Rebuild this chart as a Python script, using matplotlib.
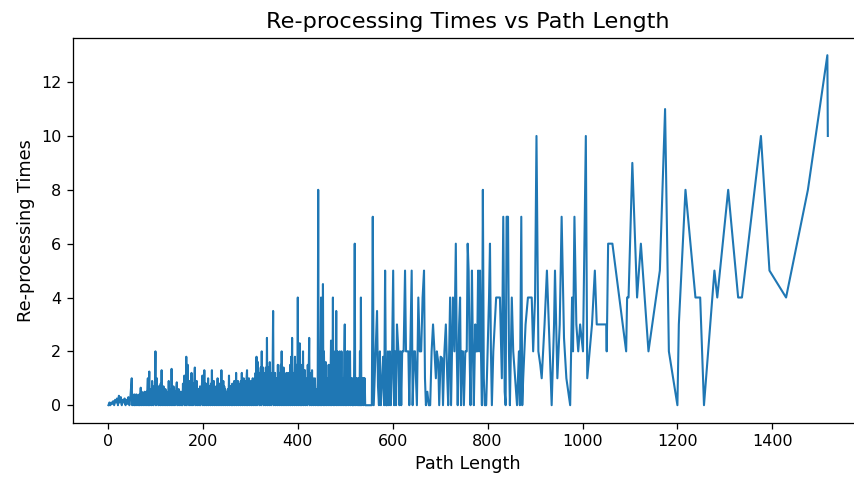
import matplotlib
matplotlib.use("Agg")
import matplotlib.pyplot as plt

# Path length of each processed route (sorted) and how many times it was re-processed
path_length = [
    1, 3, 5, 7, 9, 11, 13, 15, 17, 19, 21, 23, 25, 27, 29, 31, 33, 35, 37, 39, 41, 43, 45, 47,
    50, 51, 52, 53, 54, 55, 56, 57, 58, 59,
    60, 61, 62, 63, 64, 65, 66, 67, 68, 69,
    70, 71, 72, 73, 74, 75, 76, 77, 78, 79,
    80, 81, 82, 83, 84, 85, 86, 87, 88, 89,
    90, 91, 92, 93, 94, 95, 96, 97, 98, 99,
    100, 101, 102, 103, 104, 105, 106, 107, 108, 109,
    110, 111, 112, 113, 114, 115, 116, 117, 118, 119,
    120, 121, 122, 123, 124, 125, 126, 127, 128, 129,
    130, 131, 132, 133, 134, 135, 136, 137, 138, 139,
    140, 141, 142, 143, 144, 145, 146, 147, 148, 149,
    150, 151, 152, 153, 154, 155, 156, 157, 158, 159,
    160, 161, 162, 163, 164, 165, 166, 167, 168, 169,
    170, 171, 172, 173, 174, 175, 176, 177, 178, 179,
    180, 181, 182, 183, 184, 185, 186, 187, 188, 189,
    190, 191, 192, 193, 194, 195, 196, 197, 198, 199,
    200, 201, 202, 203, 204, 205, 206, 207, 208, 209,
    210, 211, 212, 213, 214, 215, 216, 217, 218, 219,
    220, 221, 222, 223, 224, 225, 226, 227, 228, 229,
    230, 231, 232, 233, 234, 235, 236, 237, 238, 239,
    240, 241, 242, 243, 244, 245, 246, 247, 248, 249,
    250, 251, 252, 253, 254, 255, 256, 257, 258, 259,
    260, 261, 262, 263, 264, 265, 266, 267, 268, 269,
    270, 271, 272, 273, 274, 275, 276, 277, 278, 279,
    280, 281, 282, 283, 284, 285, 286, 287, 288, 289,
    290, 291, 292, 293, 294, 295, 296, 297, 298, 299,
    300, 301, 302, 303, 304, 305, 306, 307, 308, 309,
    310, 311, 312, 313, 314, 315, 316, 317, 318, 319,
    320, 321, 322, 323, 324, 325, 326, 327, 328, 329,
    330, 331, 332, 333, 334, 335, 336, 337, 338, 339,
    340, 341, 342, 343, 344, 345, 346, 347, 348, 349,
    350, 351, 352, 353, 354, 355, 356, 357, 358, 359,
    360, 361, 362, 363, 364, 365, 366, 367, 368, 369,
    370, 371, 372, 373, 374, 375, 376, 377, 378, 379,
    380, 381, 382, 383, 384, 385, 386, 387, 388, 389,
    390, 391, 392, 393, 394, 395, 396, 397, 398, 399,
    400, 401, 402, 403, 404, 405, 406, 407, 408, 409,
    410, 411, 412, 413, 414, 415, 416, 417, 418, 419,
    420, 421, 422, 423, 424, 425, 426, 427, 428, 429,
    430, 431, 432, 433, 434, 435, 436, 437, 438, 439,
    440, 441, 442, 443, 444, 445, 446, 447, 448, 449,
    450, 451, 452, 453, 454, 455, 456, 457, 458, 459,
    460, 461, 462, 463, 464, 465, 466, 467, 468, 469,
    470, 471, 472, 473, 474, 475, 476, 477, 478, 479,
    480, 481, 482, 483, 484, 485, 486, 487, 488, 489,
    490, 491, 492, 493, 494, 495, 496, 497, 498, 499,
    500, 501, 502, 503, 504, 505, 506, 507, 508, 509,
    510, 511, 512, 513, 514, 515, 516, 517, 518, 519,
    520, 521, 522, 523, 524, 525, 526, 527, 528, 529,
    530, 531, 532, 533, 534, 535, 536, 537, 538, 539,
    540, 541, 542, 543, 550, 556,
    558, 560, 564, 567, 569, 571, 573, 575, 578, 580, 582, 584, 586, 588, 590, 592,
    594, 596, 598, 601, 603, 605, 607, 609, 612, 614, 616, 618, 620, 623, 626, 628, 630, 633,
    635, 637, 640, 642, 645, 647, 649, 651, 654, 657, 660, 663, 666, 668, 670, 673, 676, 679,
    682, 685, 688, 691, 693, 696, 698, 701, 704, 706, 709, 712, 715, 717, 719, 721, 723, 725,
    727, 730, 733, 735, 737, 740, 742, 744, 746, 748, 750, 753, 756, 758, 760, 762, 764, 767,
    769, 771, 774, 776, 778, 780, 782, 784, 786, 788, 790, 792, 794, 797, 800, 803, 805, 807,
    809, 812, 815, 818, 822, 826, 830, 833, 836, 838, 840, 843, 845, 847, 851, 854, 858, 862,
    866, 868, 871, 873, 875, 880, 885, 889, 893, 896, 900, 903, 907, 911, 914, 920, 925, 928,
    932, 935, 940, 942, 947, 952, 956, 961, 966, 970, 974, 978, 980, 983, 987, 991, 995, 1001,
    1007, 1010, 1015, 1020, 1026, 1030, 1040, 1050, 1051, 1054, 1063, 1092, 1094, 1097, 1105,
    1115, 1123, 1139, 1163, 1174, 1182, 1200, 1203, 1217, 1238, 1248, 1256, 1278, 1284, 1307,
    1328, 1336, 1376, 1394, 1429, 1475, 1516, 1517,
]

reprocessing_times = [
    0, 0.1, 0, 0.1, 0.05, 0.15, 0, 0.2, 0.1, 0.25, 0, 0.35, 0.1, 0.3, 0, 0.2, 0.1, 0.25, 0, 0.2,
    0.05, 0.3, 0, 0.25,
    1.0, 0, 0.4, 0.1, 0.35, 0, 0.4, 0, 0.3, 0.1,
    0.4, 0, 0.35, 0.1, 0.3, 0, 0.4, 0, 0.3, 0.65,
    0, 0.5, 0.1, 0.4, 0, 0.45, 0.1, 0.5, 0, 0.4,
    0.1, 0.5, 0, 0.6, 1.0, 0, 0.6, 1.25, 0, 0.5,
    0.1, 0.6, 0, 0.9, 0.2, 0.7, 0, 0.5, 0.1, 0.8,
    2.0, 0, 0.7, 1.0, 0.1, 0.6, 0, 0.7, 0.2, 0.6,
    0, 0.8, 0.1, 1.3, 0, 0.6, 0.2, 0.7, 0, 0.5,
    0.1, 0.6, 0, 0.4, 0.5, 0, 0.4, 0.1, 0.9, 0,
    0.5, 0.1, 0.6, 0, 1.35, 0.1, 0.6, 0, 0.7, 0.1,
    0.5, 0, 0.5, 0.1, 0.6, 0.85, 0, 0.5, 0.1, 0.6,
    0, 0.5, 0.1, 0.5, 0, 0.4, 0.5, 0, 0.8, 0.1,
    0.7, 1.1, 0, 0.9, 0.2, 1.8, 0, 0.9, 1.5, 0.1,
    0.8, 0, 0.9, 0.2, 0.7, 0, 1.2, 0.1, 0.8, 0,
    0.8, 0.2, 0.9, 1.4, 0, 0.7, 0.1, 0.9, 0, 0.6,
    0.1, 0.6, 0, 0.5, 0.7, 0, 0.6, 0.1, 0.8, 1.1,
    0, 0.7, 0.2, 1.3, 0, 0.8, 0.1, 0.8, 0, 0.7,
    0.2, 1.0, 0, 0.7, 0.1, 0.7, 0, 0.8, 0.2, 1.3,
    0, 0.8, 0.1, 0.9, 0, 0.7, 0.2, 0.6, 0, 0.7,
    0.1, 1.0, 0, 0.7, 0.2, 0.8, 0, 0.6, 0.1, 1.3,
    0, 0.8, 0.1, 0.9, 0, 0.7, 0.2, 0.6, 0, 0.5,
    0.1, 0.5, 0, 0.6, 0.2, 1.1, 0, 0.7, 0.1, 0.7,
    0, 0.6, 0.8, 0, 0.7, 0.2, 0.9, 0, 0.7, 0.1,
    1.2, 0, 0.8, 0.2, 0.9, 0, 0.8, 0.1, 0.7, 0,
    0.9, 0.2, 1.2, 0, 0.8, 0.1, 1.0, 0, 0.9, 0.2,
    0.8, 0, 1.0, 1.3, 0, 0.9, 0.2, 1.0, 0, 0.8,
    0.3, 0.9, 0, 0.5, 0.2, 1.0, 0, 0.7, 0.3, 1.0,
    0, 1.2, 0.2, 1.8, 0, 1.0, 1.6, 0.1, 1.0, 0,
    1.2, 0.3, 1.4, 0, 2.0, 0.2, 1.0, 1.4, 0, 1.2,
    0.3, 1.0, 0, 1.4, 0.2, 2.5, 0, 1.2, 0.5, 1.4,
    0, 1.6, 0.3, 1.2, 0, 1.0, 0.4, 1.5, 3.5, 0,
    1.0, 0.2, 1.2, 0, 0.7, 0.3, 1.0, 0, 1.5, 0.2,
    1.0, 0, 1.2, 0.3, 1.5, 0, 2.0, 0.2, 1.0, 0,
    1.4, 0.3, 1.0, 0, 0.8, 0.2, 1.2, 0, 0.8, 0.3,
    1.2, 0, 1.0, 0.3, 1.5, 0, 1.8, 0.2, 2.5, 0,
    1.2, 0.4, 1.0, 0, 1.8, 0.2, 1.2, 0, 1.5, 0.3,
    4.0, 0, 1.5, 0.4, 2.3, 0, 1.2, 1.0, 0, 1.5,
    0.3, 2.0, 0, 1.3, 0.5, 1.3, 0, 1.0, 0.2, 0.8,
    0, 1.5, 0.4, 1.2, 2.5, 0, 1.0, 0.3, 1.2, 0,
    1.3, 0.2, 1.0, 0, 0.7, 0.3, 1.0, 0, 0.6, 0.2,
    0.5, 0, 1.0, 8.0, 0, 2.0, 1.0, 0, 1.5, 4.0,
    0, 1.5, 0.3, 4.5, 0, 2.0, 1.0, 0, 1.2, 1.6,
    0, 1.0, 0.3, 1.0, 0, 1.5, 0.2, 0.5, 0, 1.0,
    2.4, 0, 1.2, 0.4, 4.0, 0, 2.0, 1.0, 0, 1.5,
    0.3, 3.5, 0, 2.0, 1.6, 0, 1.0, 0.4, 2.0, 0,
    1.5, 0.3, 2.0, 0, 1.0, 0.5, 1.0, 0, 2.0, 3.0,
    0, 1.5, 1.0, 0, 2.0, 0.3, 2.0, 0, 1.0, 0.5,
    2.0, 0, 1.0, 0.3, 1.0, 0, 0, 1.0, 0, 2.0,
    6.0, 0, 1.0, 0.5, 1.0, 0, 0.5, 1.0, 0, 1.0,
    0, 2.0, 0, 4.0, 0, 1.0, 0.5, 1.0, 0, 1.0,
    0.5, 1.0, 0, 0, 0, 0,
    7.0, 0, 2.0, 3.5, 0.7, 0, 2.0, 0, 1.0, 1.8, 0, 5.0, 0, 0, 2.0, 0,
    2.0, 0, 1.0, 5.0, 0, 2.0, 0, 3.0, 2.0, 0, 2.0, 0, 2.0, 2.0, 5.0, 2.0, 2.0, 2.0,
    0, 2.0, 5.0, 0, 2.0, 2.0, 1.0, 0, 4.0, 2.0, 2.0, 4.0, 5.0, 1.0, 0, 0.5, 0, 0,
    2.0, 3.0, 2.0, 1.0, 2.0, 1.6, 0, 1.8, 1.75, 0, 2.0, 3.0, 1.0, 0, 2.0, 4.0, 0, 2.0,
    4.0, 2.0, 6.0, 2.0, 0, 3.0, 4.0, 0, 2.0, 2.0, 0, 2.0, 2.0, 6.0, 5.0, 2.0, 0, 5.0,
    2.0, 0, 3.0, 2.0, 2.0, 5.0, 2.0, 5.0, 2.0, 0, 8.0, 1.0, 0, 0, 2.0, 4.0, 6.0, 2.0,
    0, 2.0, 3.0, 4.0, 4.0, 4.0, 1.0, 7.0, 0.5, 0, 7.0, 7.0, 2.0, 0, 4.0, 2.0, 1.0, 0,
    2.0, 0, 7.0, 0, 1.0, 3.0, 4.0, 4.0, 4.0, 2.0, 4.0, 10.0, 2.0, 1.5, 1.0, 3.0, 5.0, 3.5,
    1.5, 0, 3.0, 5.0, 1.0, 3.0, 7.0, 2.5, 1.0, 0.5, 0, 4.0, 2.0, 7.0, 3.0, 2.0, 3.0, 2.0,
    10.0, 1.0, 2.0, 3.0, 5.0, 3.0, 3.0, 3.0, 2.0, 6.0, 6.0, 2.0, 4.0, 4.0, 9.0,
    4.0, 6.0, 2.0, 5.0, 11.0, 2.0, 0, 3.0, 8.0, 4.0, 4.0, 0, 5.0, 4.0, 8.0,
    4.0, 4.0, 10.0, 5.0, 4.0, 8.0, 13.0, 10.0,
]

W, H, DPI = 854, 482, 72
S = 1.6  # rendering scale relative to 72 dpi

fig = plt.figure(figsize=(W / DPI, H / DPI), dpi=DPI)
ax = fig.add_axes([72.5 / W, (H - 422.7) / H, 791.3 / W, 385.0 / H])

ax.plot(path_length, reprocessing_times, color="#1f77b4", linewidth=1.3 * S)

ax.set_title("Re-processing Times vs Path Length", fontsize=14 * S, pad=6 * S)
ax.set_xlabel("Path Length", fontsize=11 * S, labelpad=4 * S)
ax.set_ylabel("Re-processing Times", fontsize=11 * S, labelpad=4 * S)
ax.set_xticks([0, 200, 400, 600, 800, 1000, 1200, 1400])
ax.set_yticks([0, 2, 4, 6, 8, 10, 12])
ax.tick_params(labelsize=10 * S, length=3.5 * S, width=0.8 * S, pad=3.5 * S)
for sp in ax.spines.values():
    sp.set_linewidth(0.8 * S)

fig.savefig("out.png", dpi=DPI)
